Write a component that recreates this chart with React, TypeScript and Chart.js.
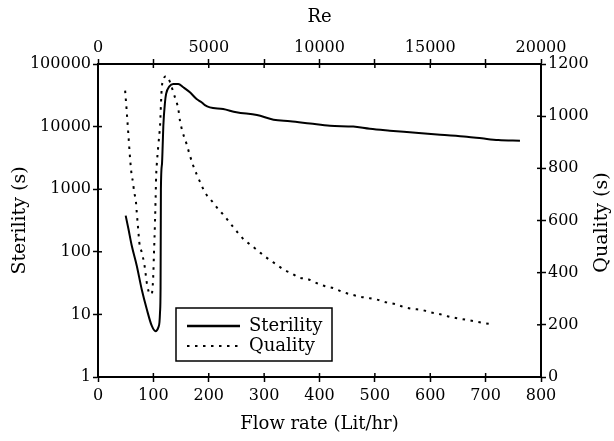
import { useEffect, useRef } from 'react';
import { Chart, registerables } from 'chart.js';

Chart.register(...registerables);

// ---------- data ----------
const sterilityFlow = [50, 55, 61, 70, 79, 88, 97, 104, 109, 111, 112, 113, 113.6, 115.5, 116.8, 118, 121, 123, 129, 136, 145, 154, 166, 178, 187, 193, 202, 226, 250, 287, 317, 347, 383, 419, 461, 491, 527, 563, 618, 666, 693, 723, 762];
const sterilityValues = [378, 231, 125, 60, 25, 12.2, 6.6, 5.4, 6.2, 7.5, 10.8, 27, 1000, 2500, 4950, 10300, 24500, 33300, 44000, 48000, 48000, 42500, 35300, 27600, 24500, 22000, 20300, 19100, 16900, 15300, 12900, 12200, 11200, 10300, 10000, 9200, 8600, 8100, 7400, 6900, 6500, 6100, 5950];

const qualityFlow = [49, 52, 55, 58, 61, 63, 65, 68.6, 70, 72.8, 74.6, 79, 83.6, 89, 94, 97, 99, 100, 101, 102, 103, 104, 105, 106, 109, 112, 115, 118, 123, 139, 145, 148, 153, 160, 166, 172, 178, 186, 193, 205, 217, 229, 241, 253, 264, 279, 294, 306, 321, 336, 350, 362, 378, 395, 410, 426, 443, 458, 473, 488, 503, 521, 536, 554, 569, 585, 600, 615, 631, 646, 663, 679, 696, 710];
const qualityValues = [1098, 1015, 925, 836, 770, 750, 714, 670, 631, 561, 516, 478, 433, 350, 318, 318, 355, 400, 470, 530, 600, 680, 770, 810, 890, 963, 1104, 1140, 1153, 1072, 1027, 983, 938, 893, 849, 810, 778, 740, 708, 676, 644, 616, 583, 552, 526, 501, 475, 455, 433, 411, 397, 382, 376, 360, 348, 340, 325, 316, 308, 303, 297, 286, 280, 267, 261, 257, 248, 242, 233, 226, 220, 214, 207, 203];

const sterilityTicks = [1, 10, 100, 1000, 10000, 100000];
const qualityRange = [0, 1200];
const qualityStep = 200;
const flowRange = [0, 800];
const flowStep = 100;
const reRange = [0, 20000];
const reStep = 2500;
const reLabelEvery = 5000;

const seriesNames = ['Sterility', 'Quality'];
const xTitle = 'Flow rate (Lit/hr)';
const x2Title = 'Re';
const yTitle = 'Sterility (s)';
const y1Title = 'Quality (s)';

// ---------- styling ----------
const FONT = "'DejaVu Serif', 'Liberation Serif', serif";
const DOT_DASH = [2.5, 5.5];

const decorPlugin = {
  id: 'decor',
  afterDraw(chart: any) {
    const { ctx, chartArea: ca, scales } = chart;
    ctx.save();
    // inner halves of the crossing tick marks
    ctx.strokeStyle = '#000';
    ctx.lineWidth = 1.5;
    const inner = 4;
    const seg = (x1: number, y1: number, x2: number, y2: number) => {
      ctx.beginPath();
      ctx.moveTo(x1, y1);
      ctx.lineTo(x2, y2);
      ctx.stroke();
    };
    scales.x.ticks.forEach((_t: any, i: number) => {
      const p = scales.x.getPixelForTick(i);
      seg(p, ca.bottom, p, ca.bottom - inner);
    });
    scales.x2.ticks.forEach((_t: any, i: number) => {
      const p = scales.x2.getPixelForTick(i);
      seg(p, ca.top, p, ca.top + inner);
    });
    scales.y.ticks.forEach((_t: any, i: number) => {
      const p = scales.y.getPixelForTick(i);
      seg(ca.left, p, ca.left + inner, p);
    });
    scales.y1.ticks.forEach((_t: any, i: number) => {
      const p = scales.y1.getPixelForTick(i);
      seg(ca.right, p, ca.right - inner, p);
    });

    // axis titles
    ctx.fillStyle = '#000';
    ctx.textAlign = 'center';
    ctx.textBaseline = 'middle';
    const cx = (ca.left + ca.right) / 2;
    const cy = (ca.top + ca.bottom) / 2;
    ctx.font = `18px ${FONT}`;
    ctx.fillText(xTitle, cx, chart.height - 17);
    ctx.fillText(x2Title, cx, 17);
    ctx.font = `19px ${FONT}`;
    ctx.save();
    ctx.translate(20, cy);
    ctx.rotate(-Math.PI / 2);
    ctx.fillText(yTitle, 0, 0);
    ctx.restore();
    ctx.save();
    ctx.translate(chart.width - 12, cy + 2);
    ctx.rotate(-Math.PI / 2);
    ctx.fillText(y1Title, 0, 0);
    ctx.restore();

    // legend box
    const bx = ca.left + 78;
    const by = ca.top + 244;
    const bw = 156;
    const bh = 53;
    ctx.fillStyle = '#fff';
    ctx.fillRect(bx, by, bw, bh);
    ctx.strokeStyle = '#000';
    ctx.lineWidth = 1.5;
    ctx.strokeRect(bx, by, bw, bh);
    const ds = chart.data.datasets;
    const rows = [by + 18, by + 38];
    seriesNames.forEach((name, i) => {
      const y = rows[i];
      ctx.save();
      ctx.strokeStyle = ds[i].borderColor;
      ctx.lineWidth = i === 0 ? 2.5 : 2;
      ctx.setLineDash(ds[i].borderDash || []);
      ctx.lineDashOffset = 0;
      ctx.beginPath();
      ctx.moveTo(bx + 11, y);
      ctx.lineTo(bx + 64, y);
      ctx.stroke();
      ctx.restore();
      ctx.fillStyle = '#000';
      ctx.font = `18px ${FONT}`;
      ctx.textAlign = 'left';
      ctx.textBaseline = 'middle';
      ctx.fillText(name, bx + 73, y);
    });
    ctx.restore();
  },
};

const axisCommon = (extra: any) => ({
  grid: {
    drawOnChartArea: false,
    drawTicks: true,
    tickLength: 5,
    tickWidth: 1.5,
    tickColor: '#000',
    color: '#000',
  },
  border: { display: true, color: '#000', width: 2 },
  ...extra,
});

export default function App() {
  const ref = useRef<HTMLCanvasElement | null>(null);

  useEffect(() => {
    if (!ref.current) return;
    Chart.defaults.color = '#000';
    Chart.defaults.font.family = FONT;
    const tickFont = { family: FONT, size: 16 };
    const chart = new Chart(ref.current, {
      type: 'line',
      data: {
        datasets: [
          {
            label: seriesNames[0],
            data: sterilityFlow.map((x, i) => ({ x, y: sterilityValues[i] })),
            xAxisID: 'x',
            yAxisID: 'y',
            borderColor: '#000',
            borderWidth: 2,
            pointRadius: 0,
            cubicInterpolationMode: 'monotone',
            fill: false,
          },
          {
            label: seriesNames[1],
            data: qualityFlow.map((x, i) => ({ x, y: qualityValues[i] })),
            xAxisID: 'x',
            yAxisID: 'y1',
            borderColor: '#000',
            borderWidth: 2,
            borderDash: DOT_DASH,
            pointRadius: 0,
            cubicInterpolationMode: 'monotone',
            fill: false,
          },
        ],
      },
      options: {
        responsive: false,
        animation: false,
        events: [],
        layout: { padding: 0 },
        plugins: {
          legend: { display: false },
          tooltip: { enabled: false },
        },
        scales: {
          x: axisCommon({
            type: 'linear',
            position: 'bottom',
            min: flowRange[0],
            max: flowRange[1],
            ticks: {
              stepSize: flowStep,
              font: tickFont,
              color: '#000',
              maxRotation: 0,
              autoSkip: false,
              padding: 4,
              callback: (v: any) => String(v),
            },
            afterFit: (s: any) => {
              s.height = 64;
            },
          }),
          x2: axisCommon({
            type: 'linear',
            position: 'top',
            display: true,
            min: reRange[0],
            max: reRange[1],
            ticks: {
              stepSize: reStep,
              font: tickFont,
              color: '#000',
              maxRotation: 0,
              autoSkip: false,
              padding: 2,
              callback: (v: any) => (v % reLabelEvery === 0 ? String(v) : ''),
            },
            afterFit: (s: any) => {
              s.height = 64;
            },
          }),
          y: axisCommon({
            type: 'logarithmic',
            position: 'left',
            min: sterilityTicks[0],
            max: sterilityTicks[sterilityTicks.length - 1],
            afterBuildTicks: (s: any) => {
              s.ticks = sterilityTicks.map((v) => ({ value: v }));
            },
            ticks: {
              font: tickFont,
              color: '#000',
              padding: 2,
              autoSkip: false,
              callback: (v: any) => String(v),
            },
            afterFit: (s: any) => {
              s.width = 98;
            },
          }),
          y1: axisCommon({
            type: 'linear',
            position: 'right',
            min: qualityRange[0],
            max: qualityRange[1],
            ticks: {
              stepSize: qualityStep,
              font: tickFont,
              color: '#000',
              padding: 2,
              autoSkip: false,
              callback: (v: any) => String(v),
            },
            afterFit: (s: any) => {
              s.width = 73;
            },
          }),
        },
      },
      plugins: [decorPlugin],
    } as any);
    return () => chart.destroy();
  }, []);

  return (
    <div style={{ position: 'absolute', left: 0, top: 0, width: 614, height: 441, background: '#fff' }}>
      <canvas ref={ref} width={614} height={441} style={{ display: 'block' }} />
    </div>
  );
}
